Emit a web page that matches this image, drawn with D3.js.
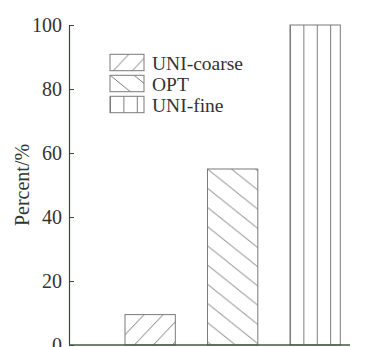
<!DOCTYPE html>
<meta charset="utf-8">
<style>
body { margin: 0; background: #fff; }
text { font-family: "Liberation Serif", "Times New Roman", serif; fill: #333; }
</style>
<body>
<div id="chart"></div>
<script src="https://d3js.org/d3.v7.min.js"></script>
<script>

// Categories and values
var methods = ["UNI-coarse", "OPT", "UNI-fine"];
var percents = [9.5, 55, 100];
var hatches = ["slash", "back", "vert"];
var yTicks = [0, 20, 40, 60, 80, 100];

var width = 366, height = 347;
var margin = {top: 25, right: 16, bottom: 2, left: 69};

var svg = d3.select("#chart")
  .append("svg")
    .attr("width", width)
    .attr("height", height);

var y = d3.scaleLinear()
  .domain([0, 100])
  .range([height - margin.bottom, margin.top]);

var x = d3.scaleBand()
  .domain(methods)
  .range([125, 340.3])
  .paddingInner(0.39)
  .paddingOuter(0);

var defs = svg.append("defs");

// hatch patterns, phase set to the element they fill
function makePattern(id, kind, ox, oy) {
  var p = defs.append("pattern")
    .attr("id", id)
    .attr("patternUnits", "userSpaceOnUse");
  var line = p.append("line")
    .attr("stroke", "#6a6a6a")
    .attr("stroke-width", 0.9);
  if (kind == "slash") {
    p.attr("width", 19).attr("height", 20)
      .attr("x", ox).attr("y", oy - 20);
    line.attr("x1", -1).attr("y1", 21.05).attr("x2", 20).attr("y2", -1.05);
  } else if (kind == "back") {
    p.attr("width", 24).attr("height", 19.2)
      .attr("x", ox).attr("y", oy);
    line.attr("x1", -1).attr("y1", -0.8).attr("x2", 25).attr("y2", 20);
  } else {
    p.attr("width", 13.4).attr("height", 10)
      .attr("x", ox).attr("y", oy);
    line.attr("x1", 0.5).attr("y1", 0).attr("x2", 0.5).attr("y2", 10);
  }
}

methods.forEach(function(m, i) {
  var k = hatches[i];
  if (k == "slash") makePattern("bar" + i, k, x(m) + 9.3, y(0));
  else makePattern("bar" + i, k, x(m), y(percents[i]));
});

// bars
svg.append("g")
  .selectAll("rect")
  .data(methods)
  .enter()
  .append("rect")
    .attr("x", function(d) { return x(d); })
    .attr("y", function(d, i) { return y(percents[i]); })
    .attr("width", x.bandwidth())
    .attr("height", function(d, i) { return y(0) - y(percents[i]); })
    .attr("fill", function(d, i) { return "url(#bar" + i + ")"; })
    .attr("stroke", "#7a7a7a")
    .attr("stroke-width", 1);

// y axis, ticks point inward
var yAxis = svg.append("g")
  .attr("transform", "translate(" + margin.left + ",0)")
  .call(d3.axisLeft(y).tickValues(yTicks).tickSize(-5).tickPadding(7).tickSizeOuter(0));
yAxis.select(".domain").attr("stroke", "#3c453c").attr("stroke-width", 1.2);
yAxis.selectAll(".tick line").attr("stroke", "#3c453c");
yAxis.selectAll("text")
  .style("font-family", "Liberation Serif")
  .style("font-size", "20px")
  .attr("fill", "#333");

// x baseline
svg.append("line")
  .attr("x1", margin.left)
  .attr("x2", 350)
  .attr("y1", y(0))
  .attr("y2", y(0))
  .attr("stroke", "#3f5a3f")
  .attr("stroke-width", 1.5);

// y label
svg.append("text")
  .attr("transform", "translate(29," + ((margin.top + y(0)) / 2) + ") rotate(-90)")
  .attr("text-anchor", "middle")
  .style("font-size", "20px")
  .text("Percent/%");

// legend
var legX = 110, legY = 54.3, legStep = 21, boxW = 34, boxH = 16.4;
methods.forEach(function(m, i) {
  var k = hatches[i];
  var by = legY + i * legStep;
  if (k == "slash") makePattern("leg" + i, k, legX + 3.3, by + boxH);
  else makePattern("leg" + i, k, legX, by);
});

var legend = svg.append("g");
legend.selectAll("rect")
  .data(methods)
  .enter()
  .append("rect")
    .attr("x", legX)
    .attr("y", function(d, i) { return legY + i * legStep; })
    .attr("width", boxW)
    .attr("height", boxH)
    .attr("fill", function(d, i) { return "url(#leg" + i + ")"; })
    .attr("stroke", "#7a7a7a")
    .attr("stroke-width", 1);
legend.selectAll("text")
  .data(methods)
  .enter()
  .append("text")
    .attr("x", 152)
    .attr("y", function(d, i) { return legY + i * legStep + 15.8; })
    .style("font-size", "19.5px")
    .text(function(d) { return d; });

</script>
</body>
